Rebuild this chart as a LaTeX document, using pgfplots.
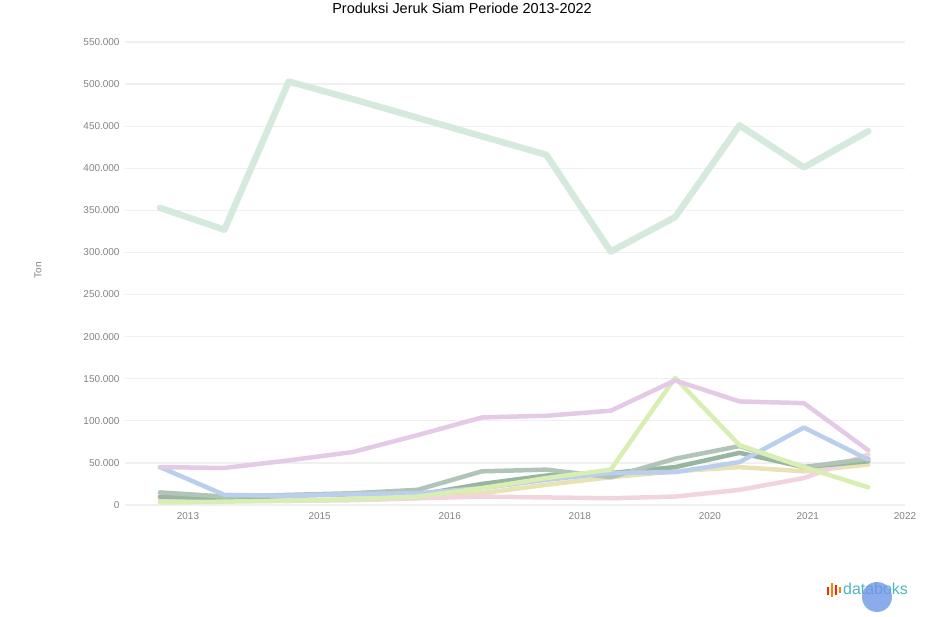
\documentclass[border=0pt]{standalone}
\usepackage{fontspec}
\setmainfont{Liberation Sans}
\usepackage{pgfplots}
\pgfplotsset{compat=1.18}
\definecolor{bigline}{RGB}{214,233,221}
\definecolor{violetl}{RGB}{228,202,230}
\definecolor{limel}{RGB}{216,238,178}
\definecolor{bluel}{RGB}{186,206,238}
\definecolor{grayl}{RGB}{176,196,184}
\definecolor{pinkl}{RGB}{242,212,222}
\definecolor{darkl}{RGB}{150,182,160}
\definecolor{beigel}{RGB}{232,226,180}
\definecolor{tickgray}{RGB}{130,130,130}
\definecolor{teal}{RGB}{77,182,192}
\definecolor{btnblue}{RGB}{110,150,230}

\begin{document}
\begin{tikzpicture}
\useasboundingbox (0,0) rectangle (925bp,617bp);
\node[font=\fontsize{14.5}{17}\selectfont] at (462bp,609bp) {Produksi Jeruk Siam Periode 2013-2022};
\node[rotate=90,font=\fontsize{10}{12}\selectfont,text=tickgray] at (38bp,347bp) {Ton};
\begin{axis}[
 at={(125bp,112bp)},anchor=south west,
 scale only axis,width=780bp,height=463bp,
 xmin=-0.543,xmax=11.57,ymin=0,ymax=550000,
 axis line style={draw=none},
 scaled y ticks=false,
 ytick={0,50000,100000,150000,200000,250000,300000,350000,400000,450000,500000,550000},
 yticklabels={0,50.000,100.000,150.000,200.000,250.000,300.000,350.000,400.000,450.000,500.000,550.000},
 ymajorgrids,grid style={draw=black!6,line width=1.2pt},
 yticklabel style={font=\fontsize{10}{11}\selectfont,text=tickgray,xshift=-2bp},
 xtick={0.435,2.48,4.50,6.52,8.54,10.06,11.57},
 xticklabels={2013,2015,2016,2018,2020,2021,2022},
 xticklabel style={font=\fontsize{10}{11}\selectfont,text=tickgray,yshift=-4bp},
 major tick length=0pt,
 every axis plot/.append style={line join=round,line cap=round,line width=4.5bp,no markers},
 clip=false]
\addplot[beigel] coordinates {(0,6000) (1,5000) (2,5000) (3,6000) (4,8000) (5,14000) (6,24000) (7,33000) (8,40000) (9,45000) (10,40000) (11,48000)};
\addplot[pinkl] coordinates {(0,8000) (1,6000) (2,5000) (3,6000) (4,8000) (5,10000) (6,9000) (7,8000) (8,10000) (9,18000) (10,32000) (11,60000)};
\addplot[darkl] coordinates {(0,10000) (1,8000) (2,11000) (3,13000) (4,12000) (5,25000) (6,35000) (7,38000) (8,45000) (9,62000) (10,45000) (11,52000)};
\addplot[grayl] coordinates {(0,15000) (1,10000) (2,12000) (3,14000) (4,18000) (5,40000) (6,42000) (7,33000) (8,55000) (9,70000) (10,45000) (11,55000)};
\addplot[bluel] coordinates {(0,45000) (1,12000) (2,11000) (3,13000) (4,14000) (5,20000) (6,30000) (7,38000) (8,39000) (9,51000) (10,92000) (11,54000)};
\addplot[limel] coordinates {(0,3000) (1,4000) (2,5000) (3,7000) (4,10000) (5,20000) (6,32000) (7,42000) (8,151000) (9,71000) (10,45000) (11,21000)};
\addplot[violetl] coordinates {(0,45000) (1,44000) (2,53000) (3,63000) (4,83000) (5,104000) (6,106000) (7,112000) (8,148000) (9,123000) (10,121000) (11,65000)};
\addplot[bigline,line width=6.5bp] coordinates {(0,353000) (1,327000) (2,503000) (3,482000) (4,460000) (5,438000) (6,416000) (7,301000) (8,342000) (9,451000) (10,401000) (11,444000)};
\end{axis}
% databoks logo
\fill[red!70!orange] (827bp,22bp) rectangle (829bp,30bp);
\fill[orange] (831bp,20bp) rectangle (833bp,34bp);
\fill[red!70!orange] (835bp,22bp) rectangle (837bp,32bp);
\fill[orange] (839bp,24bp) rectangle (841bp,30bp);
\node[anchor=west,text=teal,font=\fontsize{16}{17}\selectfont,inner sep=0pt] at (843bp,28bp) {databoks};
\fill[btnblue,opacity=0.8] (877bp,20bp) circle (15bp);
\end{tikzpicture}
\end{document}
